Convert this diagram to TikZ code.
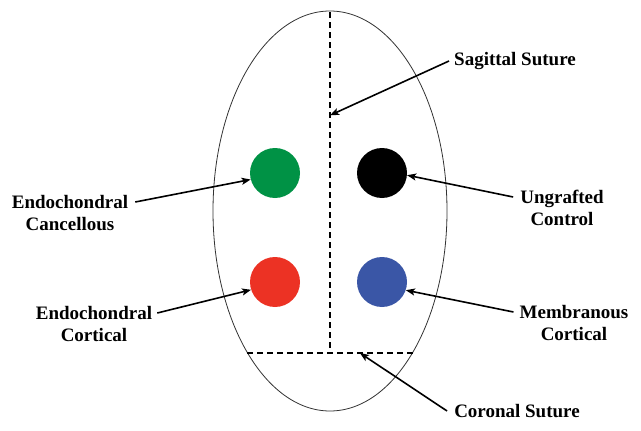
\documentclass[tikz,border=0pt]{standalone}
\usepackage{fontspec}
\setmainfont{Liberation Serif}
\usetikzlibrary{arrows.meta,calc}
\definecolor{cgreen}{RGB}{0,146,69}
\definecolor{cred}{RGB}{236,50,36}
\definecolor{cblue}{RGB}{58,86,166}
\definecolor{outline}{RGB}{50,50,50}
\tikzset{
  lbl/.style={font=\fontsize{19}{22}\selectfont\bfseries, align=center, inner sep=2pt, text=black},
  dot/.style={circle, minimum size=50pt, inner sep=0pt},
  pointer/.style={line width=1.6pt, -{Stealth[length=9pt,width=7pt,inset=2pt]}, black},
  suture/.style={line width=1.5pt, dash pattern=on 6pt off 4pt, black}
}
\begin{document}
\begin{tikzpicture}[x=1pt,y=-1pt]
\useasboundingbox (0,0) rectangle (641,431);
% skull outline
\draw[outline, line width=0.8pt] (330,211) ellipse [x radius=117, y radius=200];
% sutures
\coordinate (st) at (330,12);
\coordinate (sb) at (330,353);
\coordinate (cl) at (247,353);
\coordinate (cr) at (413,353);
\draw[suture] (st) -- (sb);
\draw[suture] (cl) -- (cr);
% graft sites
\node[dot, fill=cgreen] (g) at (275,173) {};
\node[dot, fill=cred] (r) at (275,282) {};
\node[dot, fill=black] (k) at (382,173) {};
\node[dot, fill=cblue] (b) at (382,282) {};
% labels
\node[lbl] (L1) at (70,213) {Endochondral\\Cancellous};
\node[lbl] (L2) at (94,324) {Endochondral\\Cortical};
\node[lbl] (L3) at (562,208) {Ungrafted\\Control};
\node[lbl] (L4) at (574,323) {Membranous\\Cortical};
\node[lbl] (L5) at (515,61) {Sagittal Suture};
\node[lbl] (L6) at (517,411) {Coronal Suture};
% arrows
\draw[pointer] ([xshift=5pt,yshift=11pt]L1.east) -- (g.195);
\draw[pointer] ([xshift=3pt,yshift=11pt]L2.east) -- (r.198);
\draw[pointer] ([xshift=-5pt,yshift=11pt]L3.west) -- (k.355);
\draw[pointer] ([xshift=-4pt,yshift=11pt]L4.west) -- (b.341);
\draw[pointer] ([xshift=-3pt]L5.west) -- ($(st)!0.303!(sb)$);
\draw[pointer] ([xshift=-5pt]L6.west) -- ($(cl)!0.68!(cr)$);
\end{tikzpicture}
\end{document}
